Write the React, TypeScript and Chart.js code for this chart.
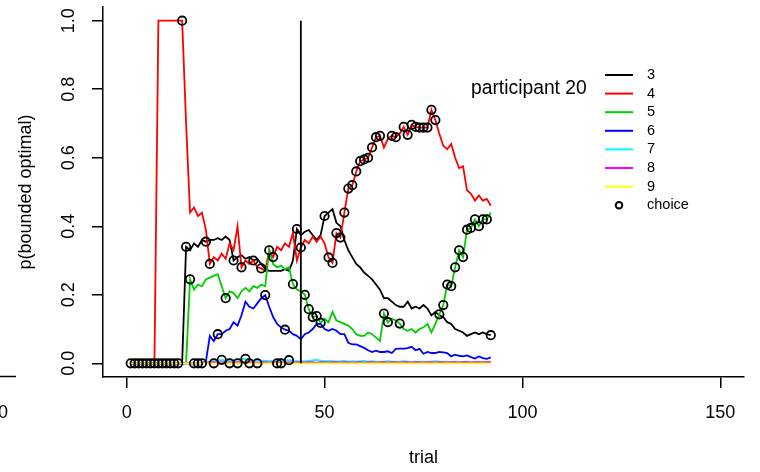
import { useEffect, useRef } from "react";
import { Chart, registerables } from "chart.js";

Chart.register(...registerables);

const trials = Array.from({ length: 92 }, (_, i) => i + 1);

const series3 = [0,0,0,0,0,0,0,0,0,0,0,0,0,0,
  0.34,0.33,0.35,0.34,0.36,0.355,0.36,0.36,0.365,0.36,0.37,0.36,0.30,0.31,0.315,0.305,
  0.31,0.30,0.305,0.29,0.275,0.27,0.27,0.27,0.27,0.275,0.27,0.30,0.392,0.374,0.384,0.389,
  0.374,0.36,0.374,0.43,0.44,0.45,0.41,0.40,0.36,0.33,0.31,0.29,0.28,0.265,0.255,0.245,
  0.23,0.215,0.19,0.19,0.18,0.17,0.165,0.165,0.18,0.16,0.165,0.16,0.17,0.16,0.14,0.15,
  0.14,0.135,0.12,0.115,0.10,0.095,0.09,0.08,0.085,0.09,0.085,0.09,0.085,0.082];

const series4 = [0,0,0,0,0,0,0,1,1,1,1,1,1,1,
  0.70,0.44,0.455,0.43,0.44,0.39,0.29,0.31,0.30,0.32,0.305,0.35,0.33,0.40,0.28,0.30,
  0.29,0.30,0.28,0.277,0.27,0.33,0.31,0.34,0.33,0.35,0.34,0.38,0.30,0.338,0.36,0.35,
  0.37,0.355,0.37,0.35,0.309,0.293,0.38,0.367,0.44,0.51,0.52,0.56,0.59,0.595,0.60,0.63,
  0.66,0.664,0.63,0.655,0.664,0.66,0.67,0.69,0.667,0.696,0.69,0.688,0.688,0.688,0.74,0.71,
  0.67,0.635,0.625,0.64,0.60,0.57,0.575,0.505,0.495,0.475,0.49,0.475,0.48,0.46];

const series5 = [0,0,0,0,0,0,0,0,0,0,0,0,0,0,0,
  0.245,0.215,0.23,0.225,0.245,0.25,0.255,0.26,0.225,0.19,0.21,0.205,0.19,0.21,0.22,
  0.21,0.225,0.22,0.23,0.225,0.33,0.29,0.28,0.285,0.275,0.28,0.231,0.215,0.21,0.20,0.158,
  0.135,0.138,0.118,0.13,0.12,0.15,0.125,0.12,0.115,0.11,0.10,0.085,0.08,0.08,0.09,0.085,
  0.075,0.065,0.145,0.12,0.13,0.125,0.116,0.10,0.095,0.10,0.09,0.10,0.105,0.115,0.09,0.115,
  0.143,0.17,0.23,0.225,0.28,0.33,0.31,0.39,0.395,0.42,0.40,0.42,0.42,0.44];

const series6 = [0,0,0,0,0,0,0,0,0,0,0,0,0,0,0,0,0,0,0,0.005,
  0.08,0.065,0.085,0.085,0.095,0.10,0.12,0.11,0.14,0.18,0.165,0.16,0.175,0.19,0.199,0.165,
  0.135,0.115,0.105,0.098,0.095,0.085,0.08,0.07,0.085,0.09,0.10,0.115,0.115,0.10,0.095,0.10,
  0.095,0.085,0.085,0.06,0.055,0.055,0.05,0.045,0.038,0.033,0.037,0.033,0.033,0.035,0.03,0.042,
  0.043,0.043,0.044,0.048,0.038,0.042,0.028,0.033,0.03,0.03,0.033,0.032,0.03,0.02,0.025,0.022,
  0.02,0.023,0.018,0.014,0.02,0.015,0.013,0.017];

const series7 = [0,0,0,0,0,0,0,0,0,0,0,0,0,0,0,0,0,0,0,0.003,
  0.005,0.006,0.008,0.01,0.008,0.007,0.009,0.011,0.012,0.013,0.01,0.008,0.009,0.007,0.008,0.006,
  0.007,0.006,0.008,0.009,0.009,0.007,0.006,0.005,0.006,0.007,0.009,0.01,0.008,0.006,0.007,0.006,
  0.005,0.006,0.007,0.005,0.006,0.005,0.006,0.007,0.005,0.006,0.005,0.004,0.005,0.006,0.005,0.004,
  0.005,0.006,0.005,0.004,0.005,0.004,0.005,0.004,0.005,0.006,0.005,0.004,0.005,0.004,0.005,0.004,
  0.004,0.005,0.004,0.004,0.005,0.004,0.004,0.004];

const series8 = [0,0,0,0,0,0,0,0,0,0,0,0,0,0,0,0,0,0,0,0.002,
  0.003,0.003,0.002,0.003,0.003,0.002,0.003,0.003,0.003,0.002,0.003,0.003,0.002,0.003,0.003,0.002,
  0.003,0.003,0.002,0.003,0.003,0.002,0.003,0.003,0.002,0.003,0.003,0.002,0.003,0.003,0.002,0.003,
  0.003,0.002,0.003,0.003,0.002,0.003,0.003,0.002,0.003,0.003,0.002,0.003,0.003,0.002,0.003,0.003,
  0.002,0.003,0.003,0.002,0.003,0.003,0.002,0.003,0.003,0.002,0.003,0.003,0.002,0.003,0.003,0.002,
  0.003,0.003,0.002,0.003,0.003,0.002,0.003,0.003];

const series9 = [0,0,0,0,0,0,0,0,0,0,0,0,0,0,0,0,0,0,0,0,
  0,0,0,0,0,0,0,0,0,0,0,0,0,0,0,0,0,0,0,0,0,0,0,0,0,0,0,0,0,0,0,0,0,0,0,0,
  0,0,0,0,0,0,0,0,0,0,0,0,0,0,0,0,0,0,0,0,0,0,0,0,0,0,0,0,0,0,0,0,0,0,0,0];

const choices = [0,0,0,0,0,0,0,0,0,0,0,0,0,1.0,
  0.34,0.245,0,0,0,0.355,0.29,0,0.085,0.01,0.19,0,0.30,0,0.28,0.013,
  0,0.30,0,0.277,0.199,0.33,0.31,0,0,0.098,0.009,0.231,0.392,0.338,0.20,0.158,
  0.135,0.138,0.118,0.43,0.309,0.293,0.38,0.367,0.44,0.51,0.52,0.56,0.59,0.595,0.60,0.63,
  0.66,0.664,0.145,0.12,0.664,0.66,0.116,0.69,0.667,0.696,0.69,0.688,0.688,0.688,0.74,0.71,
  0.143,0.17,0.23,0.225,0.28,0.33,0.31,0.39,0.395,0.42,0.40,0.42,0.42,0.082];

const markerTrial = [44, 44];
const markerP = [0, 1];

const seriesNames = ["3", "4", "5", "6", "7", "8", "9"];
const seriesColors = ["#000000", "#FF0000", "#00CD00", "#0000FF", "#00FFFF", "#FF00FF", "#FFFF00"];
const allSeries = [series3, series4, series5, series6, series7, series8, series9];

const xTicks = [0, 50, 100, 150];
const yTicks = [0, 0.2, 0.4, 0.6, 0.8, 1.0];

const titleText = "participant 20";
const xTitle = "trial";
const yTitle = "p(bounded optimal)";
const stubLabel = "150";

const FONT = "'Liberation Sans', Arial, Helvetica, sans-serif";

const extrasPlugin = {
  id: "extras",
  afterDraw(chart: any) {
    const ctx = chart.ctx;
    ctx.save();
    ctx.fillStyle = "#000";
    ctx.textBaseline = "middle";
    ctx.textAlign = "left";
    ctx.font = `19.3px ${FONT}`;
    ctx.fillText(titleText, 471, 89);

    ctx.font = `14.5px ${FONT}`;
    const y0 = 75;
    const dy = 18.6;
    seriesNames.forEach((name, i) => {
      const y = y0 + dy * i;
      ctx.strokeStyle = seriesColors[i];
      ctx.lineWidth = 2;
      ctx.beginPath();
      ctx.moveTo(605, y);
      ctx.lineTo(633, y);
      ctx.stroke();
      ctx.fillStyle = "#000";
      ctx.fillText(name, 647, y);
    });
    const yc = y0 + dy * seriesNames.length;
    ctx.strokeStyle = "#000";
    ctx.lineWidth = 2;
    ctx.beginPath();
    ctx.arc(619, yc, 3.3, 0, Math.PI * 2);
    ctx.stroke();
    ctx.fillText("choice", 647, yc);

    // leftover axis piece on the left edge
    ctx.lineWidth = 1.5;
    ctx.beginPath();
    ctx.moveTo(0, 376.5);
    ctx.lineTo(16, 376.5);
    ctx.stroke();
    ctx.font = `18px ${FONT}`;
    ctx.textAlign = "right";
    ctx.fillText(stubLabel, 8, 413);
    ctx.restore();
  },
};

export default function App() {
  const ref = useRef<HTMLCanvasElement | null>(null);
  useEffect(() => {
    document.body.style.margin = "0";
    if (!ref.current) return;
    const lineSets = allSeries.map((s, i) => ({
      type: "line" as const,
      label: seriesNames[i],
      data: trials.map((t, j) => ({ x: t, y: s[j] })),
      borderColor: seriesColors[i],
      backgroundColor: seriesColors[i],
      borderWidth: 1.8,
      pointRadius: 0,
      tension: 0,
      order: 8 - i,
    }));
    const chart = new Chart(ref.current, {
      type: "line",
      data: {
        datasets: [
          {
            type: "scatter" as const,
            label: "choice",
            data: trials.map((t, j) => ({ x: t, y: choices[j] })),
            borderColor: "#000",
            backgroundColor: "rgba(0,0,0,0)",
            borderWidth: 1.8,
            pointRadius: 4.2,
            pointStyle: "circle",
            showLine: false,
            order: 0,
          },
          {
            type: "line" as const,
            label: "marker",
            data: markerTrial.map((t, j) => ({ x: t, y: markerP[j] })),
            borderColor: "#000",
            borderWidth: 1.8,
            pointRadius: 0,
            order: 1,
          },
          ...lineSets,
        ] as any,
      },
      options: {
        animation: false,
        responsive: false,
        devicePixelRatio: 1,
        layout: { padding: { left: 0, right: 16, top: 7, bottom: 0 } },
        plugins: { legend: { display: false }, tooltip: { enabled: false } },
        scales: {
          x: {
            type: "linear",
            min: -6,
            max: 156,
            afterBuildTicks: (axis: any) => {
              axis.ticks = xTicks.map((v) => ({ value: v }));
            },
            afterFit: (s: any) => {
              s.height = 95;
              s.paddingLeft = 0;
              s.paddingRight = 0;
            },
            ticks: {
              autoSkip: false,
              maxRotation: 0,
              minRotation: 0,
              padding: 14,
              color: "#000",
              font: { family: FONT, size: 18 },
            },
            grid: { drawOnChartArea: false, drawTicks: true, tickLength: 11, color: "#000", lineWidth: 1.5 },
            border: { display: true, color: "#000", width: 1.5 },
            title: {
              display: true,
              text: xTitle,
              color: "#000",
              font: { family: FONT, size: 18 },
              padding: { top: 0, bottom: 3 },
            },
          },
          y: {
            type: "linear",
            min: -0.04,
            max: 1.04,
            afterBuildTicks: (axis: any) => {
              axis.ticks = yTicks.map((v) => ({ value: v }));
            },
            afterFit: (s: any) => {
              s.width = 103;
              s.paddingTop = 0;
              s.paddingBottom = 0;
            },
            ticks: {
              autoSkip: false,
              minRotation: 90,
              maxRotation: 90,
              crossAlign: "center",
              padding: 10,
              color: "#000",
              font: { family: FONT, size: 18 },
              callback: (v: any) => Number(v).toFixed(1),
            },
            grid: { drawOnChartArea: false, drawTicks: true, tickLength: 11, color: "#000", lineWidth: 1.5 },
            border: { display: true, color: "#000", width: 1.5 },
            title: {
              display: true,
              text: yTitle,
              color: "#000",
              font: { family: FONT, size: 18 },
              padding: { top: 15, bottom: 0 },
            },
          },
        },
      } as any,
      plugins: [extrasPlugin],
    });
    return () => chart.destroy();
  }, []);
  return (
    <div style={{ width: 760, height: 472 }}>
      <canvas ref={ref} width={760} height={472} />
    </div>
  );
}
